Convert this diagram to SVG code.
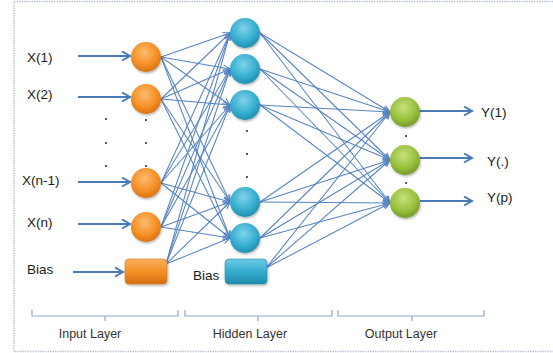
<svg xmlns="http://www.w3.org/2000/svg" width="553" height="353" viewBox="0 0 553 353">
<style>
.lbl{font-family:"Liberation Sans",Arial,sans-serif;font-size:13.5px;fill:#1a1a1a}
.lay{font-family:"Liberation Sans",Arial,sans-serif;font-size:12.5px;fill:#333}
.c{stroke:#5784c2;stroke-width:1.05;fill:none;marker-end:url(#ah)}
.io{stroke:#4a7ab8;stroke-width:2;fill:none;marker-end:url(#ahb)}
.br{stroke:#8eaad3;stroke-width:1.2;fill:none}
.dot{fill:#222}
</style>
<defs>
<marker id="ah" markerUnits="userSpaceOnUse" markerWidth="10" markerHeight="10" refX="8" refY="4" orient="auto">
<path d="M1,1 L8,4 L1,7" fill="none" stroke="#5784c2" stroke-width="1.1"/>
</marker>
<marker id="ahb" markerUnits="userSpaceOnUse" markerWidth="12" markerHeight="12" refX="9" refY="5" orient="auto">
<path d="M1,0.5 L9,5 L1,9.5" fill="none" stroke="#4a7ab8" stroke-width="2"/>
</marker>
<radialGradient id="gO" cx="0.45" cy="0.35" r="0.7">
<stop offset="0" stop-color="#fdbb6e"/><stop offset="0.6" stop-color="#f48f25"/><stop offset="1" stop-color="#d56d10"/>
</radialGradient>
<radialGradient id="gT" cx="0.45" cy="0.35" r="0.7">
<stop offset="0" stop-color="#7fd3ea"/><stop offset="0.6" stop-color="#36aed0"/><stop offset="1" stop-color="#1d88a8"/>
</radialGradient>
<radialGradient id="gG" cx="0.45" cy="0.35" r="0.7">
<stop offset="0" stop-color="#c8e07e"/><stop offset="0.6" stop-color="#97c03c"/><stop offset="1" stop-color="#6f9222"/>
</radialGradient>
<linearGradient id="lO" x1="0" y1="0" x2="0" y2="1">
<stop offset="0" stop-color="#fbb061"/><stop offset="0.5" stop-color="#f39026"/><stop offset="1" stop-color="#d46e12"/>
</linearGradient>
<linearGradient id="lT" x1="0" y1="0" x2="0" y2="1">
<stop offset="0" stop-color="#6ccbe6"/><stop offset="0.5" stop-color="#35acce"/><stop offset="1" stop-color="#1f8aaa"/>
</linearGradient>
<filter id="sh" x="-30%" y="-30%" width="160%" height="160%">
<feDropShadow dx="0.8" dy="1.5" stdDeviation="1" flood-color="#000" flood-opacity="0.3"/>
</filter>
</defs>
<rect width="553" height="353" fill="#fff"/>
<rect x="14" y="1.5" width="560" height="350" fill="none" stroke="#bac7d8" stroke-width="1.5" stroke-dasharray="1.5,1"/>

<g id="connectors">
<line class="c" x1="161" y1="57" x2="230" y2="33"/><line class="c" x1="161" y1="57" x2="230" y2="69"/><line class="c" x1="161" y1="57" x2="230" y2="105"/><line class="c" x1="161" y1="57" x2="230" y2="202"/><line class="c" x1="161" y1="57" x2="230" y2="238"/>
<line class="c" x1="161" y1="99" x2="230" y2="33"/><line class="c" x1="161" y1="99" x2="230" y2="69"/><line class="c" x1="161" y1="99" x2="230" y2="105"/><line class="c" x1="161" y1="99" x2="230" y2="202"/><line class="c" x1="161" y1="99" x2="230" y2="238"/>
<line class="c" x1="161" y1="183" x2="230" y2="33"/><line class="c" x1="161" y1="183" x2="230" y2="69"/><line class="c" x1="161" y1="183" x2="230" y2="105"/><line class="c" x1="161" y1="183" x2="230" y2="202"/><line class="c" x1="161" y1="183" x2="230" y2="238"/>
<line class="c" x1="161" y1="227" x2="230" y2="33"/><line class="c" x1="161" y1="227" x2="230" y2="69"/><line class="c" x1="161" y1="227" x2="230" y2="105"/><line class="c" x1="161" y1="227" x2="230" y2="202"/><line class="c" x1="161" y1="227" x2="230" y2="238"/>
<line class="c" x1="166" y1="264" x2="230" y2="33"/><line class="c" x1="166" y1="264" x2="230" y2="69"/><line class="c" x1="166" y1="264" x2="230" y2="105"/><line class="c" x1="166" y1="264" x2="230" y2="202"/><line class="c" x1="166" y1="264" x2="230" y2="238"/>
<line class="c" x1="260" y1="33" x2="390" y2="112"/><line class="c" x1="260" y1="33" x2="390" y2="160"/><line class="c" x1="260" y1="33" x2="390" y2="203"/>
<line class="c" x1="260" y1="69" x2="390" y2="112"/><line class="c" x1="260" y1="69" x2="390" y2="160"/><line class="c" x1="260" y1="69" x2="390" y2="203"/>
<line class="c" x1="260" y1="105" x2="390" y2="112"/><line class="c" x1="260" y1="105" x2="390" y2="160"/><line class="c" x1="260" y1="105" x2="390" y2="203"/>
<line class="c" x1="260" y1="202" x2="390" y2="112"/><line class="c" x1="260" y1="202" x2="390" y2="160"/><line class="c" x1="260" y1="202" x2="390" y2="203"/>
<line class="c" x1="260" y1="238" x2="390" y2="112"/><line class="c" x1="260" y1="238" x2="390" y2="160"/><line class="c" x1="260" y1="238" x2="390" y2="203"/>
<line class="c" x1="266" y1="268" x2="390" y2="112"/><line class="c" x1="266" y1="268" x2="390" y2="160"/><line class="c" x1="266" y1="268" x2="390" y2="203"/>
<line class="io" x1="78" y1="56" x2="130" y2="56"/>
<line class="io" x1="78" y1="97" x2="130" y2="97"/>
<line class="io" x1="78" y1="182" x2="130" y2="182"/>
<line class="io" x1="78" y1="224" x2="130" y2="224"/>
<line class="io" x1="73" y1="272" x2="123" y2="272"/>
<line class="io" x1="420" y1="111" x2="472" y2="111"/>
<line class="io" x1="420" y1="158" x2="472" y2="158"/>
<line class="io" x1="420" y1="201" x2="472" y2="201"/>
</g>

<g id="input-layer">
<g id="in1"><circle cx="146" cy="57" r="15" fill="url(#gO)" filter="url(#sh)"/><text class="lbl" x="27" y="62">X(1)</text></g>
<g id="in2"><circle cx="146" cy="99" r="15" fill="url(#gO)" filter="url(#sh)"/><text class="lbl" x="27" y="99">X(2)</text></g>
<g id="in3"><circle cx="146" cy="183" r="15" fill="url(#gO)" filter="url(#sh)"/><text class="lbl" x="22" y="185">X(n-1)</text></g>
<g id="in4"><circle cx="146" cy="227" r="15" fill="url(#gO)" filter="url(#sh)"/><text class="lbl" x="27" y="227">X(n)</text></g>
<g id="in-bias"><rect x="125" y="259" width="42" height="25" rx="4" fill="url(#lO)" stroke="#d77a20" stroke-width="0.6" filter="url(#sh)"/><text class="lbl" x="27" y="274">Bias</text></g>
<g id="in-dots">
<circle class="dot" cx="106" cy="119" r="1"/><circle class="dot" cx="106" cy="143" r="1"/><circle class="dot" cx="106" cy="166" r="1"/>
<circle class="dot" cx="146" cy="120" r="1"/><circle class="dot" cx="146" cy="143" r="1"/><circle class="dot" cx="146" cy="166" r="1"/>
</g>
</g>

<g id="hidden-layer">
<g id="h1"><circle cx="245" cy="33" r="15" fill="url(#gT)" filter="url(#sh)"/></g>
<g id="h2"><circle cx="245" cy="69" r="15" fill="url(#gT)" filter="url(#sh)"/></g>
<g id="h3"><circle cx="245" cy="105" r="15" fill="url(#gT)" filter="url(#sh)"/></g>
<g id="h4"><circle cx="245" cy="202" r="15" fill="url(#gT)" filter="url(#sh)"/></g>
<g id="h5"><circle cx="245" cy="238" r="15" fill="url(#gT)" filter="url(#sh)"/></g>
<g id="h-bias"><rect x="225" y="259" width="42" height="25" rx="4" fill="url(#lT)" stroke="#2a8fae" stroke-width="0.6" filter="url(#sh)"/><text class="lbl" x="193" y="280">Bias</text></g>
<g id="h-dots">
<circle class="dot" cx="247" cy="131" r="1"/><circle class="dot" cx="247" cy="154" r="1"/><circle class="dot" cx="247" cy="177" r="1"/>
</g>
</g>

<g id="output-layer">
<g id="o1"><circle cx="405" cy="112" r="15" fill="url(#gG)" filter="url(#sh)"/><text class="lbl" x="481" y="117">Y(1)</text></g>
<g id="o2"><circle cx="405" cy="160" r="15" fill="url(#gG)" filter="url(#sh)"/><text class="lbl" x="487" y="166">Y(.)</text></g>
<g id="o3"><circle cx="405" cy="203" r="15" fill="url(#gG)" filter="url(#sh)"/><text class="lbl" x="487" y="202">Y(p)</text></g>
<g id="o-dots"><circle class="dot" cx="406" cy="136" r="1"/><circle class="dot" cx="406" cy="183" r="1"/></g>
</g>

<g id="layer-labels">
<path class="br" d="M32,310 V316 H178 V310 M105,316 V321"/>
<path class="br" d="M185,310 V316 H332 V310 M258,316 V321"/>
<path class="br" d="M338,310 V316 H484 V310 M412,316 V321"/>
<text class="lay" x="90" y="338" text-anchor="middle">Input Layer</text>
<text class="lay" x="250" y="338" text-anchor="middle">Hidden Layer</text>
<text class="lay" x="401" y="338" text-anchor="middle">Output Layer</text>
</g>
</svg>
